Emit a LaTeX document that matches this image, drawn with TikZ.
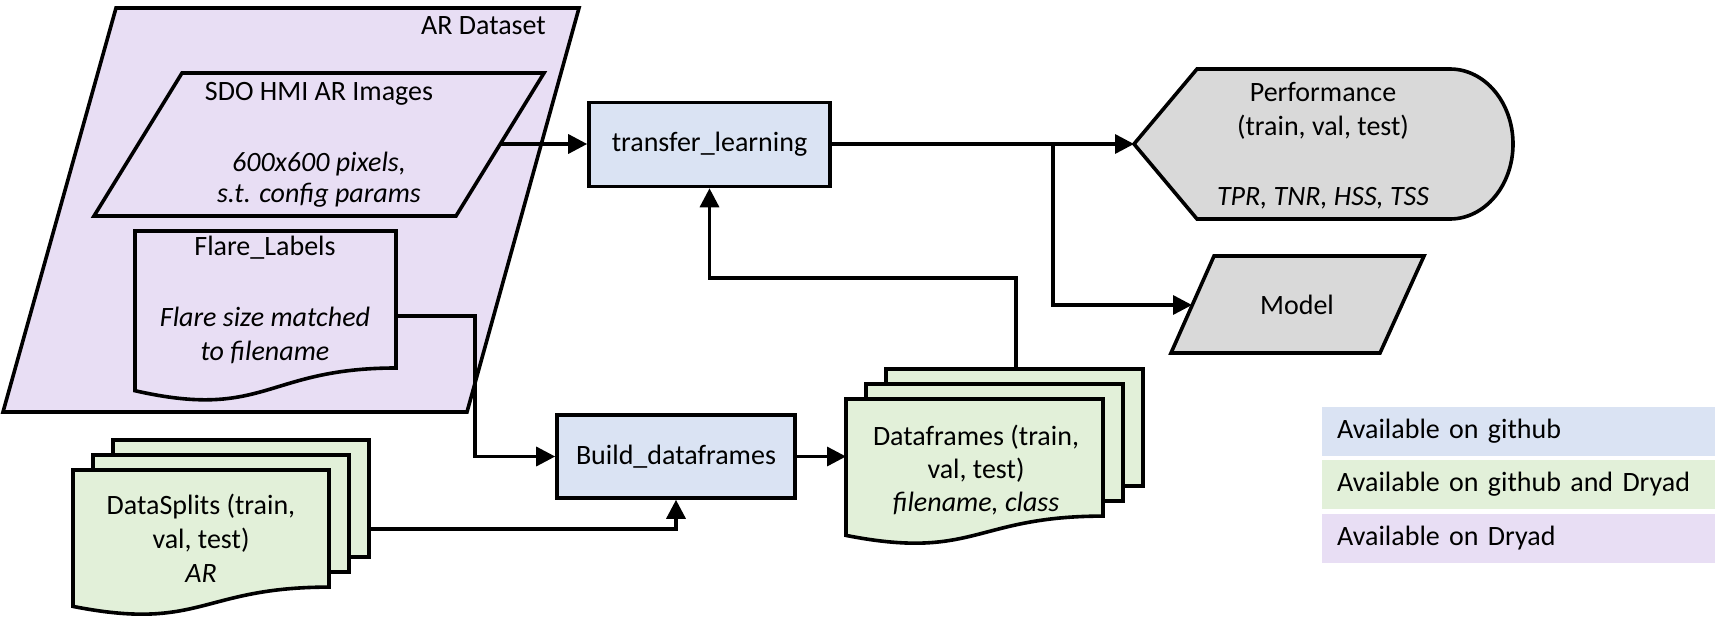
\documentclass[tikz,border=0pt]{standalone}
\usepackage{fontspec}
\setmainfont{Carlito}
\usetikzlibrary{arrows.meta}
\definecolor{pblue}{HTML}{DAE3F3}
\definecolor{pgreen}{HTML}{E2F0D9}
\definecolor{ppurple}{HTML}{E8DEF4}
\definecolor{pgray}{HTML}{D9D9D9}
\begin{document}
\begin{tikzpicture}[x=1pt,y=-1pt,
  shapeline/.style={draw=black, line width=3.6pt, line join=miter},
  conn/.style={draw=black, line width=3.4pt, -{Triangle[length=19pt,width=19pt]}},
  txt/.style={font=\fontsize{28}{34}\selectfont, inner sep=0pt, anchor=base},
  itxt/.style={txt, font=\fontsize{28}{34}\selectfont\itshape},
  procbox/.style={shapeline, fill=pblue, font=\fontsize{28}{34}\selectfont, inner sep=0pt},
  legend/.style={anchor=west, minimum width=393pt, minimum height=49pt, inner xsep=15pt,
                 text width=363pt, align=left, font=\fontsize{28}{34}\selectfont}
]
\useasboundingbox (0,0) rectangle (1715,618);

% AR Dataset (outer parallelogram)
\draw[shapeline, fill=ppurple] (116,8) -- (579,8) -- (467,412) -- (3,412) -- cycle;
\node[txt, anchor=base east] (ardata) at (546,35) {AR Dataset};

% SDO HMI AR Images
\draw[shapeline, fill=ppurple] (182,73) -- (544,73) -- (456,216) -- (94,216) -- cycle;
\node[txt] (sdo1) at (319,100) {SDO HMI AR Images};
\node[itxt] (sdo2) at (319,171) {600x600 pixels,};
\node[itxt] (sdo3) at (319,202) {s.t. config params};
\coordinate (sdoR) at (500,144);

% Flare_Labels document
\draw[shapeline, fill=ppurple] (135,231) -- (396,231) -- (396,368)
  .. controls (265.5,368) and (265.5,420.4) .. (135,390.7) -- cycle;
\node[txt] (fl1) at (265,255) {Flare\_Labels};
\node[itxt] (fl2) at (265,326) {Flare size matched};
\node[itxt] (fl3) at (265,360) {to filename};
\coordinate (flareR) at (396,316);

% process boxes
\node[procbox, minimum width=241pt, minimum height=84pt] (transfer) at (709.5,144.5) {transfer\_learning};
\node[procbox, minimum width=238pt, minimum height=83pt] (build) at (676,456.5) {Build\_dataframes};

% DataSplits stack
\draw[shapeline, fill=pgreen] (113,440) rectangle (369,557);
\draw[shapeline, fill=pgreen] (93,455) rectangle (349,572);
\draw[shapeline, fill=pgreen] (73,470) -- (329,470) -- (329,587.1)
  .. controls (201,587.1) and (201,631.7) .. (73,606.4) -- cycle;
\node[txt] (ds1) at (201,514) {DataSplits (train,};
\node[txt] (ds2) at (201,548) {val, test)};
\node[itxt] (ds3) at (201,582) {AR};
\coordinate (dsR) at (369,529);

% Dataframes stack
\draw[shapeline, fill=pgreen] (886,369) rectangle (1143,486);
\draw[shapeline, fill=pgreen] (866,384) rectangle (1123,501);
\draw[shapeline, fill=pgreen] (846,399) -- (1103,399) -- (1103,516.1)
  .. controls (974.5,516.1) and (974.5,560.7) .. (846,535.4) -- cycle;
\node[txt] (df1) at (976,445) {Dataframes (train,};
\node[txt] (df2) at (976,478) {val, test)};
\node[itxt] (df3) at (976,511) {filename, class};
\coordinate (dfL) at (846,456.5);
\coordinate (dfTop) at (1016,369);

% Performance (display shape)
\draw[shapeline, fill=pgray] (1134,144) -- (1197,69) -- (1450,69)
  arc[start angle=90, end angle=-90, x radius=63pt, y radius=75pt]
  -- (1197,219) -- cycle;
\node[txt] (pf1) at (1323,101) {Performance};
\node[txt] (pf2) at (1323,135) {(train, val, test)};
\node[itxt] (pf3) at (1323,205) {TPR, TNR, HSS, TSS};
\coordinate (perfL) at (1134,144);

% Model
\draw[shapeline, fill=pgray] (1214,256) -- (1424,256) -- (1380,353) -- (1171,353) -- cycle;
\node[txt] (model) at (1297,314) {Model};
\coordinate (modelL) at (1192,305);

% connectors
\draw[conn] (sdoR) -- (transfer.west |- sdoR);
\draw[conn] (transfer.east |- perfL) -- (perfL);
\coordinate (branch) at (1053,144);
\draw[conn] (branch) |- (modelL);
\draw[conn] (dfTop) -- ++(0,-91) -| (transfer.south);
\draw[conn] (flareR) -- ++(79,0) |- (build.west);
\draw[conn] (dsR) -| (build.south);
\draw[conn] (build.east) -- (dfL);

% legend
\node[legend, fill=pblue] (lg1) at (1322,431.5) {Available on github};
\node[legend, fill=pgreen] (lg2) at (1322,484.5) {Available on github and Dryad};
\node[legend, fill=ppurple] (lg3) at (1322,538) {Available on Dryad};
\end{tikzpicture}
\end{document}
